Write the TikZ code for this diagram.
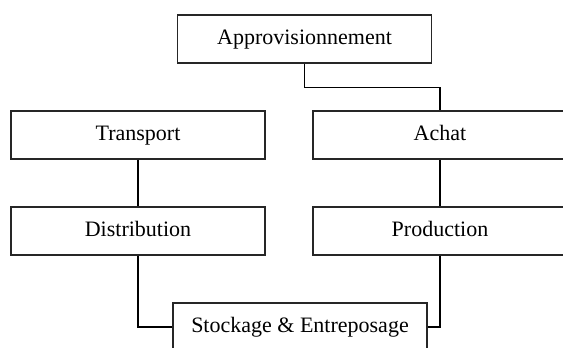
\documentclass[tikz,border=0pt]{standalone}
\usepackage{fontspec}
\setmainfont{Liberation Serif}
\usepackage{tikz}

\tikzset{
  boxnode/.style={draw=black!85,line width=0.8pt,minimum width=190.5pt,minimum height=36pt,
    inner sep=0pt,text height=11.5pt,text depth=3.5pt,font=\fontsize{16.5}{20}\selectfont},
  link/.style={draw=black,line width=0.8pt}
}

\begin{document}
\begin{tikzpicture}[x=0.75pt,y=-0.75pt]
\clip (0,0) rectangle (563,347);
\useasboundingbox (0,0) rectangle (563,347);
% boxes
\node[boxnode] (appro) at (304.5,39) {Approvisionnement};
\node[boxnode] (transport) at (138,135) {Transport};
\node[boxnode] (achat) at (440,135) {Achat};
\node[boxnode] (distrib) at (138,231) {Distribution};
\node[boxnode] (prod) at (440,231) {Production};
\node[boxnode] (stock) at (300,327) {Stockage \& Entreposage};
% links
\draw[link] (appro.south) -- ++(0,24) -| (achat.north);
\draw[link] (transport) -- (distrib);
\draw[link] (achat) -- (prod);
\draw[link] (distrib.south) |- (stock.west);
\draw[link] (prod.south) |- (stock.east);
\end{tikzpicture}
\end{document}
